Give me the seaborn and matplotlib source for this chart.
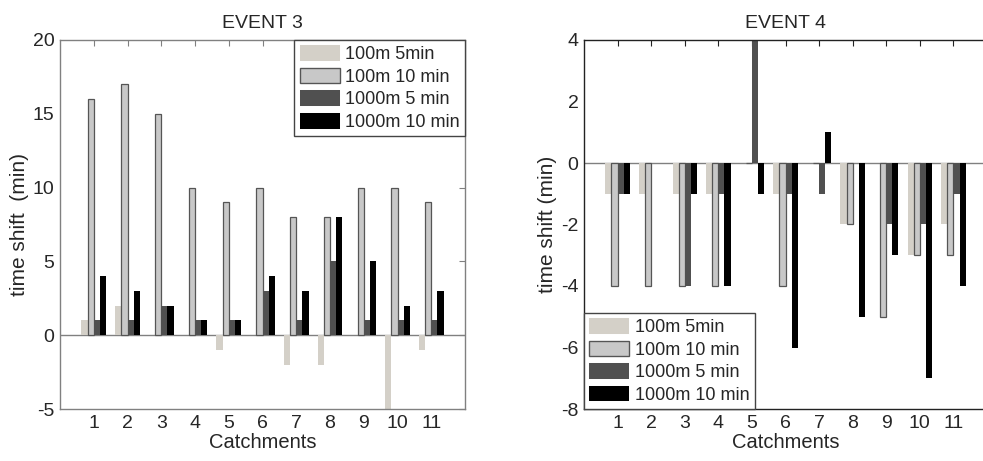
import numpy as np
import pandas as pd
import seaborn as sns
import matplotlib
matplotlib.use("Agg")
import matplotlib.pyplot as plt
from matplotlib.patches import Patch

# Catchment ids and series names
catchments = list(range(1, 12))
series = ["100m 5min", "100m 10 min", "1000m 5 min", "1000m 10 min"]

# Time shift (min), event 3
ev3_100m_5 = [1, 2, 0, 0, -1, 0, -2, -2, 0, -5, -1]
ev3_100m_10 = [16, 17, 15, 10, 9, 10, 8, 8, 10, 10, 9]
ev3_1000m_5 = [1, 1, 2, 1, 1, 3, 1, 5, 1, 1, 1]
ev3_1000m_10 = [4, 3, 2, 1, 1, 4, 3, 8, 5, 2, 3]

# Time shift (min), event 4
ev4_100m_5 = [-1, -1, -1, -1, 0, -1, 0, -2, 0, -3, -2]
ev4_100m_10 = [-4, -4, -4, -4, 0, -4, 0, -2, -5, -3, -3]
ev4_1000m_5 = [-1, 0, -4, -1, 4, -1, -1, 0, -2, -2, -1]
ev4_1000m_10 = [-1, 0, -1, -4, -1, -6, 1, -5, -3, -7, -4]

face_colors = ["#d4d0c8", "#c8c8c8", "#505050", "#000000"]
edge_colors = ["#d4d0c8", "#555555", "#505050", "#000000"]
edge_widths = [0.0, 0.9, 0.0, 0.0]


def long_table(cols):
    frames = []
    for name, vals in zip(series, cols):
        frames.append(pd.DataFrame({"catchment": catchments,
                                    "shift": vals,
                                    "series": name}))
    return pd.concat(frames, ignore_index=True)


sns.set_style("white")
plt.rcParams["font.family"] = ["Liberation Sans", "DejaVu Sans"]
plt.rcParams["xtick.direction"] = "in"
plt.rcParams["ytick.direction"] = "in"

fig = plt.figure(figsize=(9.83, 4.61), dpi=100)
W, H = 983.0, 461.0
ax1 = fig.add_axes([60 / W, 1 - 409 / H, 405 / W, 369 / H])
ax2 = fig.add_axes([584 / W, 1 - 409 / H, 403 / W, 369 / H])

FS = 14
LEG_FS = 13


def draw(ax, cols, title, ylim, yticks, ylabel, spine_color, legend_loc,
         right_ticks):
    df = long_table(cols)
    sns.barplot(data=df, x="catchment", y="shift", hue="series",
                hue_order=series, palette=face_colors, native_scale=True,
                width=0.727, errorbar=None, legend=False, ax=ax,
                saturation=1)
    for cont, ec, lw in zip(ax.containers, edge_colors, edge_widths):
        for bar in cont:
            bar.set_edgecolor(ec)
            bar.set_linewidth(lw)
    ax.axhline(0, color="#808080", lw=1.0, zorder=0.5)
    ax.set_xlim(0, 12)
    ax.set_ylim(*ylim)
    ax.set_xticks(catchments)
    ax.set_xticklabels([str(c) for c in catchments], fontsize=FS)
    ax.set_yticks(yticks)
    ax.set_yticklabels([str(t) for t in yticks], fontsize=FS)
    ax.tick_params(axis="both", which="both", direction="in", length=4,
                   top=True, right=right_ticks, color=spine_color, pad=4)
    for s in ax.spines.values():
        s.set_color(spine_color)
        s.set_linewidth(1.0)
    ax.set_title(title, fontsize=FS, pad=9)
    ax.set_xlabel("Catchments", fontsize=FS + 0.5, labelpad=1)
    ax.set_ylabel(ylabel, fontsize=FS + 1, labelpad=3)
    handles = [Patch(facecolor=fc, edgecolor=ec, linewidth=max(lw, 0.01) * 1.1)
               for fc, ec, lw in zip(face_colors, edge_colors, edge_widths)]
    leg = ax.legend(handles, series, loc=legend_loc, fontsize=LEG_FS,
                    frameon=True, fancybox=False, framealpha=1,
                    edgecolor="#444444", borderaxespad=0,
                    handlelength=2.2, handleheight=0.95,
                    handletextpad=0.3, labelspacing=0.25, borderpad=0.3)
    leg.get_frame().set_linewidth(1.0)


draw(ax1, [ev3_100m_5, ev3_100m_10, ev3_1000m_5, ev3_1000m_10],
     "EVENT 3", (-5, 20), [-5, 0, 5, 10, 15, 20], "time shift  (min)",
     "#808080", "upper right", True)
draw(ax2, [ev4_100m_5, ev4_100m_10, ev4_1000m_5, ev4_1000m_10],
     "EVENT 4", (-8, 4), [-8, -6, -4, -2, 0, 2, 4], "time shift (min)",
     "#222222", "lower left", False)

fig.savefig("out.png", dpi=100)
